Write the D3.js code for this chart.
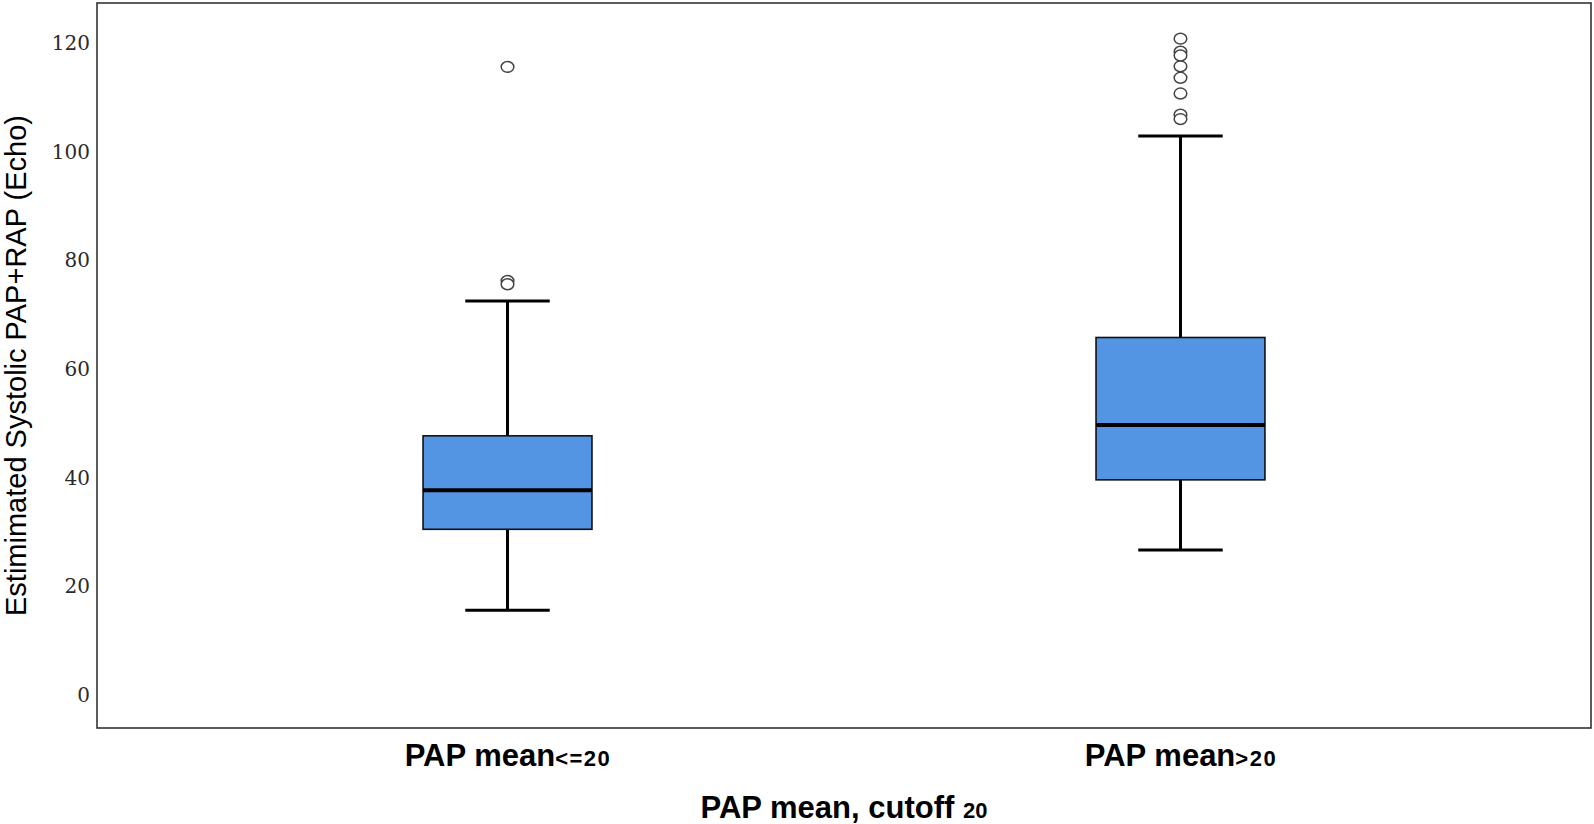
<!DOCTYPE html>
<html>
<head>
<meta charset="utf-8">
<script src="https://cdn.jsdelivr.net/npm/d3@7.9.0/dist/d3.min.js"></script>
<style>
  html, body { margin: 0; padding: 0; background: #fff; }
  svg { display: block; }
</style>
</head>
<body>
<svg id="chart" width="1594" height="824"></svg>
<script>
// box plot data
const categories = ['le20', 'gt20'];
const labelMain = ['PAP mean', 'PAP mean'];
const labelCut = ['<=20', '>20'];
const q1 = [30.5, 39.6];
const median = [37.7, 49.7];
const q3 = [47.7, 65.8];
const whiskerLow = [15.6, 26.7];
const whiskerHigh = [72.5, 102.9];
const outliers = [
  [115.6, 76.2, 75.6],
  [120.8, 118.4, 117.7, 115.7, 113.6, 110.7, 106.8, 106.0]
];
const yTicks = [0, 20, 40, 60, 80, 100, 120];

const svg = d3.select('#chart');
const plotLeft = 97, plotRight = 1591, plotTop = 3, plotBottom = 728;

const x = d3.scalePoint()
  .domain(categories)
  .range([plotLeft, plotRight])
  .padding(0.61);

const y = d3.scaleLinear()
  .domain([-6.07, 127.36])
  .range([plotBottom, plotTop]);

const boxW = x.step() * 0.251;
const capW = boxW * 0.5;

// frame
svg.append('rect')
  .attr('x', plotLeft).attr('y', plotTop)
  .attr('width', plotRight - plotLeft).attr('height', plotBottom - plotTop)
  .attr('fill', 'none')
  .attr('stroke', '#333')
  .attr('stroke-width', 1.6);

// y axis labels
const yAxis = svg.append('g')
  .attr('transform', `translate(${plotLeft},0)`)
  .call(d3.axisLeft(y).tickValues(yTicks).tickSize(0).tickPadding(7));
yAxis.select('.domain').remove();
yAxis.selectAll('text')
  .attr('font-family', '"DejaVu Serif", serif')
  .attr('font-size', 20)
  .attr('fill', '#2a2a2a');

// x axis labels
const xAxis = svg.append('g')
  .attr('transform', `translate(0,${plotBottom})`)
  .call(d3.axisBottom(x).tickSize(0).tickPadding(0));
xAxis.select('.domain').remove();
xAxis.selectAll('text')
  .attr('y', 38)
  .attr('dy', 0)
  .attr('fill', '#000')
  .each(function (d, i) {
    const t = d3.select(this).text(null);
    t.append('tspan')
      .attr('font-family', 'Arial, "Liberation Sans", sans-serif')
      .attr('font-weight', 'bold')
      .attr('font-size', 31)
      .text(labelMain[i]);
    t.append('tspan')
      .attr('font-family', '"Liberation Sans Narrow", "Arial Narrow", "Liberation Sans", sans-serif')
      .attr('font-stretch', 'condensed')
      .attr('font-weight', 'bold')
      .attr('font-size', 22)
      .attr('letter-spacing', 1.5)
      .text(labelCut[i]);
  });

// boxes, whiskers, outliers
const g = svg.append('g');
categories.forEach((c, i) => {
  const cx = x(c);
  g.append('line')
    .attr('x1', cx).attr('x2', cx)
    .attr('y1', y(whiskerLow[i])).attr('y2', y(q1[i]))
    .attr('stroke', '#000').attr('stroke-width', 3);
  g.append('line')
    .attr('x1', cx).attr('x2', cx)
    .attr('y1', y(q3[i])).attr('y2', y(whiskerHigh[i]))
    .attr('stroke', '#000').attr('stroke-width', 3);
  [whiskerLow[i], whiskerHigh[i]].forEach(v => {
    g.append('line')
      .attr('x1', cx - capW / 2).attr('x2', cx + capW / 2)
      .attr('y1', y(v)).attr('y2', y(v))
      .attr('stroke', '#000').attr('stroke-width', 3);
  });
  g.append('rect')
    .attr('x', cx - boxW / 2).attr('y', y(q3[i]))
    .attr('width', boxW).attr('height', y(q1[i]) - y(q3[i]))
    .attr('fill', '#5495e3')
    .attr('stroke', '#111').attr('stroke-width', 1.6);
  g.append('line')
    .attr('x1', cx - boxW / 2).attr('x2', cx + boxW / 2)
    .attr('y1', y(median[i])).attr('y2', y(median[i]))
    .attr('stroke', '#000').attr('stroke-width', 4);
  outliers[i].forEach(v => {
    g.append('ellipse')
      .attr('cx', cx).attr('cy', y(v))
      .attr('rx', 6.3).attr('ry', 5.4)
      .attr('fill', '#fff')
      .attr('stroke', '#444').attr('stroke-width', 1.5);
  });
});

// axis titles
const title = svg.append('text')
  .attr('x', (plotLeft + plotRight) / 2)
  .attr('y', 818)
  .attr('text-anchor', 'middle')
  .attr('fill', '#000');
title.append('tspan')
  .attr('font-family', 'Arial, "Liberation Sans", sans-serif')
  .attr('font-weight', 'bold')
  .attr('font-size', 31)
  .text('PAP mean, cutoff ');
title.append('tspan')
  .attr('font-family', '"Liberation Sans Narrow", "Arial Narrow", "Liberation Sans", sans-serif')
  .attr('font-stretch', 'condensed')
  .attr('font-weight', 'bold')
  .attr('font-size', 22)
  .text('20');

svg.append('text')
  .attr('transform', `translate(26,${(plotTop + plotBottom) / 2}) rotate(-90)`)
  .attr('text-anchor', 'middle')
  .attr('font-family', 'Arial, "Liberation Sans", sans-serif')
  .attr('font-size', 29)
  .attr('fill', '#000')
  .text('Estimimated Systolic PAP+RAP (Echo)');
</script>
</body>
</html>
